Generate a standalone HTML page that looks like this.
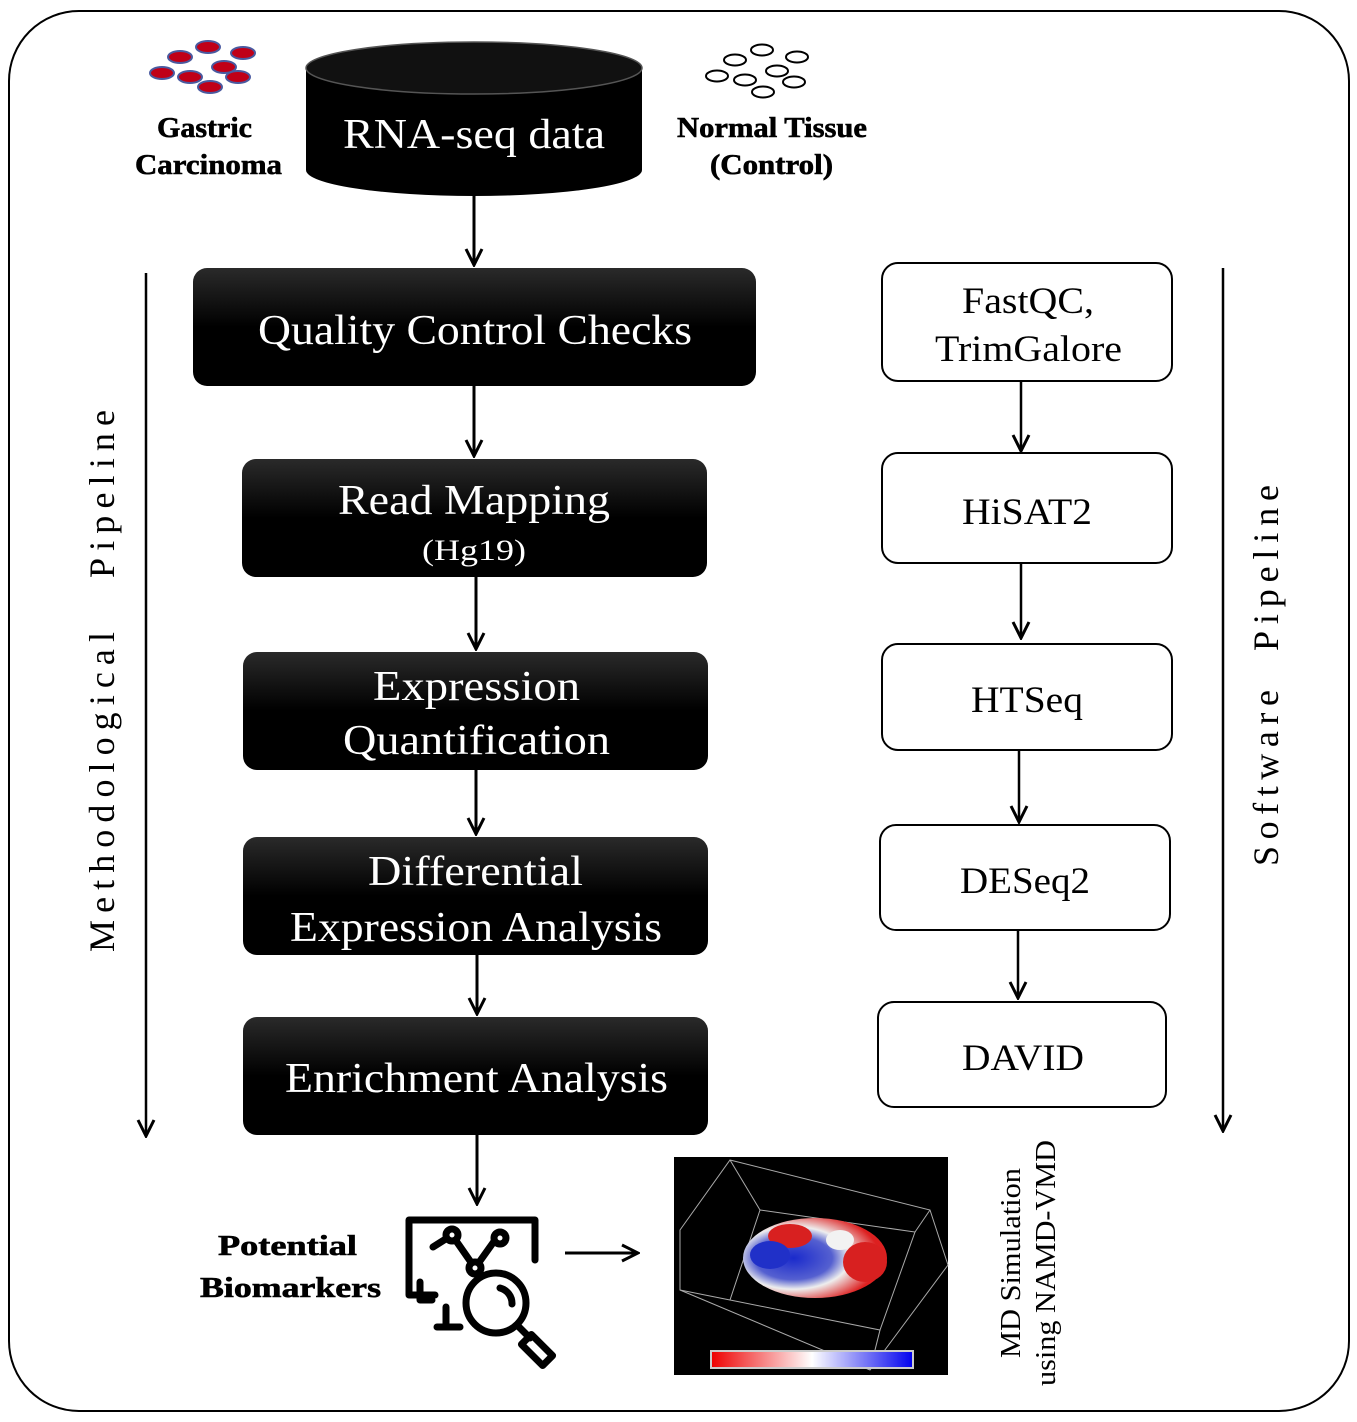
<!DOCTYPE html>
<html><head><style>body{margin:0;background:#fff}svg{display:block}</style></head>
<body>
<svg width="1357" height="1422" viewBox="0 0 1357 1422" xmlns="http://www.w3.org/2000/svg" font-family="'Liberation Serif', serif">
<defs>
<marker id="ab" markerWidth="20" markerHeight="20" refX="18" refY="10" orient="auto" markerUnits="userSpaceOnUse" viewBox="0 0 20 20"><path d="M2,2 L18,10 L2,18" fill="none" stroke="#000" stroke-width="3"/></marker>
<linearGradient id="bg" x1="0" y1="0" x2="0" y2="1"><stop offset="0" stop-color="#2a2a2a"/><stop offset="0.5" stop-color="#000"/><stop offset="1" stop-color="#000"/></linearGradient>
<linearGradient id="cb" x1="0" x2="1"><stop offset="0" stop-color="#e00"/><stop offset="0.5" stop-color="#fff"/><stop offset="1" stop-color="#00e"/></linearGradient>
<radialGradient id="pb" cx="0.35" cy="0.5" r="0.6"><stop offset="0" stop-color="#1a2acc"/><stop offset="0.45" stop-color="#5560d0"/><stop offset="0.65" stop-color="#eeeeee"/><stop offset="1" stop-color="#dd2020"/></radialGradient>
</defs>
<rect x="9" y="11" width="1340" height="1400" rx="70" fill="#fff" stroke="#000" stroke-width="2"/>

<g fill="#c00018" stroke="#4a5aa0" stroke-width="2">
<ellipse cx="208" cy="47" rx="12" ry="6"/><ellipse cx="243" cy="53" rx="12" ry="6"/><ellipse cx="180" cy="57" rx="12" ry="6"/><ellipse cx="224" cy="67" rx="12" ry="6"/><ellipse cx="162" cy="73" rx="12" ry="6"/><ellipse cx="190" cy="77" rx="12" ry="6"/><ellipse cx="238" cy="77" rx="12" ry="6"/><ellipse cx="210" cy="87" rx="12" ry="6"/>
</g>
<g fill="none" stroke="#000" stroke-width="2">
<ellipse cx="762" cy="50" rx="11" ry="5.5"/><ellipse cx="797" cy="57" rx="11" ry="5.5"/><ellipse cx="735" cy="60" rx="11" ry="5.5"/><ellipse cx="777" cy="71" rx="11" ry="5.5"/><ellipse cx="717" cy="76" rx="11" ry="5.5"/><ellipse cx="745" cy="80" rx="11" ry="5.5"/><ellipse cx="794" cy="82" rx="11" ry="5.5"/><ellipse cx="763" cy="92" rx="11" ry="5.5"/>
</g>
<g font-weight="bold" font-size="28" fill="#000" stroke="#000" stroke-width="0.6" lengthAdjust="spacingAndGlyphs">
<text x="157" y="137" textLength="95" lengthAdjust="spacingAndGlyphs">Gastric</text>
<text x="135" y="174" textLength="147" lengthAdjust="spacingAndGlyphs">Carcinoma</text>
<text x="677" y="137" textLength="190" lengthAdjust="spacingAndGlyphs">Normal Tissue</text>
<text x="710" y="174" textLength="123" lengthAdjust="spacingAndGlyphs">(Control)</text>
<text x="218" y="1255" textLength="139" lengthAdjust="spacingAndGlyphs">Potential</text>
<text x="200" y="1297" textLength="181" lengthAdjust="spacingAndGlyphs">Biomarkers</text>
</g>

<path d="M306,68 L306,170 A168,26 0 0 0 642,170 L642,68 Z" fill="#000"/>
<ellipse cx="474" cy="68" rx="168" ry="26" fill="#111" stroke="#555" stroke-width="1.5"/>
<text x="343" y="148" font-size="42" fill="#fff" textLength="262" lengthAdjust="spacingAndGlyphs">RNA-seq data</text>

<g stroke="#000" stroke-width="3" marker-end="url(#ab)">
<line x1="474" y1="196" x2="474" y2="265"/>
<line x1="474" y1="386" x2="474" y2="456"/>
<line x1="476" y1="577" x2="476" y2="649"/>
<line x1="476" y1="770" x2="476" y2="834"/>
<line x1="477" y1="955" x2="477" y2="1014"/>
<line x1="477" y1="1135" x2="477" y2="1204"/>
<line x1="565" y1="1253" x2="638" y2="1253"/>
</g>

<g fill="url(#bg)">
<rect x="193" y="268" width="563" height="118" rx="14"/>
<rect x="242" y="459" width="465" height="118" rx="14"/>
<rect x="243" y="652" width="465" height="118" rx="14"/>
<rect x="243" y="837" width="465" height="118" rx="14"/>
<rect x="243" y="1017" width="465" height="118" rx="14"/>
</g>
<g fill="#fff" font-size="42">
<text x="258" y="344" textLength="434" lengthAdjust="spacingAndGlyphs">Quality Control Checks</text>
<text x="338" y="514" textLength="272" lengthAdjust="spacingAndGlyphs">Read Mapping</text>
<text x="422" y="560" font-size="30" textLength="104" lengthAdjust="spacingAndGlyphs">(Hg19)</text>
<text x="373" y="700" textLength="207" lengthAdjust="spacingAndGlyphs">Expression</text>
<text x="343" y="754" textLength="267" lengthAdjust="spacingAndGlyphs">Quantification</text>
<text x="368" y="885" textLength="215" lengthAdjust="spacingAndGlyphs">Differential</text>
<text x="290" y="941" textLength="372" lengthAdjust="spacingAndGlyphs">Expression Analysis</text>
<text x="285" y="1092" textLength="383" lengthAdjust="spacingAndGlyphs">Enrichment Analysis</text>
</g>

<g fill="#fff" stroke="#000" stroke-width="2">
<rect x="882" y="263" width="290" height="118" rx="16"/>
<rect x="882" y="453" width="290" height="110" rx="16"/>
<rect x="882" y="644" width="290" height="106" rx="16"/>
<rect x="880" y="825" width="290" height="105" rx="16"/>
<rect x="878" y="1002" width="288" height="105" rx="16"/>
</g>
<g fill="#000" font-size="37">
<text x="962" y="313" textLength="132" lengthAdjust="spacingAndGlyphs">FastQC,</text>
<text x="935" y="361" textLength="187" lengthAdjust="spacingAndGlyphs">TrimGalore</text>
<text x="962" y="524" textLength="130" lengthAdjust="spacingAndGlyphs">HiSAT2</text>
<text x="971" y="712" textLength="112" lengthAdjust="spacingAndGlyphs">HTSeq</text>
<text x="960" y="893" textLength="130" lengthAdjust="spacingAndGlyphs">DESeq2</text>
<text x="962" y="1070" textLength="122" lengthAdjust="spacingAndGlyphs">DAVID</text>
</g>
<g stroke="#000" stroke-width="2.5" marker-end="url(#ab)">
<line x1="1021" y1="381" x2="1021" y2="451"/>
<line x1="1021" y1="563" x2="1021" y2="638"/>
<line x1="1019" y1="750" x2="1019" y2="822"/>
<line x1="1018" y1="930" x2="1018" y2="998"/>
<line x1="146" y1="273" x2="146" y2="1136"/>
<line x1="1223" y1="268" x2="1223" y2="1131"/>
</g>

<g font-size="36" fill="#000">
<text transform="translate(114,952) rotate(-90)" textLength="320" lengthAdjust="spacing">Methodological</text>
<text transform="translate(114,578) rotate(-90)" textLength="168" lengthAdjust="spacing">Pipeline</text>
<text transform="translate(1278,866) rotate(-90)" textLength="176" lengthAdjust="spacing">Software</text>
<text transform="translate(1278,651) rotate(-90)" textLength="166" lengthAdjust="spacing">Pipeline</text>
</g>
<g font-size="29" fill="#000">
<text transform="translate(1020,1358) rotate(-90)" textLength="190" lengthAdjust="spacingAndGlyphs">MD Simulation</text>
<text transform="translate(1055,1386) rotate(-90)" textLength="246" lengthAdjust="spacingAndGlyphs">using NAMD-VMD</text>
</g>

<g fill="none" stroke="#000" stroke-width="7" stroke-linecap="round" stroke-linejoin="round">
<path d="M435,1295 L409,1295 L409,1220 L535,1220 L535,1260"/>
<path d="M433,1247 L452,1235 L475,1268 L495,1240"/>
<circle cx="452" cy="1235" r="6" fill="#fff"/><circle cx="475" cy="1268" r="6" fill="#fff"/><circle cx="500" cy="1238" r="6" fill="#fff"/>
<path d="M420,1282 L420,1300 L432,1300"/>
<line x1="446" y1="1307" x2="446" y2="1327"/><line x1="437" y1="1327" x2="460" y2="1327"/>
<circle cx="496" cy="1303" r="30"/>
<path d="M500,1288 A16,16 0 0 1 512,1304"/>
<path d="M518,1326 L530,1338"/>
<rect x="530" y="1335" width="14" height="30" transform="rotate(-45 537 1350)"/>
</g>

<rect x="674" y="1157" width="274" height="218" fill="#000"/>
<g stroke="#aaa" stroke-width="1" fill="none">
<polygon points="730,1160 930,1210 948,1265 870,1370 680,1290 680,1230"/>
<polygon points="760,1210 915,1232 880,1330 730,1300"/>
<line x1="730" y1="1160" x2="760" y2="1210"/><line x1="930" y1="1210" x2="915" y2="1232"/>
<line x1="680" y1="1290" x2="730" y2="1300"/><line x1="870" y1="1370" x2="880" y2="1330"/>
</g>
<g>
<ellipse cx="815" cy="1258" rx="72" ry="40" fill="url(#pb)"/>
<ellipse cx="790" cy="1236" rx="22" ry="12" fill="#d82020"/>
<ellipse cx="865" cy="1262" rx="22" ry="20" fill="#d82020"/>
<ellipse cx="770" cy="1255" rx="20" ry="14" fill="#2030c8"/>
<ellipse cx="840" cy="1240" rx="14" ry="10" fill="#f2f2f2"/>
</g>
<rect x="711" y="1351" width="202" height="17" fill="url(#cb)" stroke="#ccc" stroke-width="2"/>
</svg>
</body></html>
